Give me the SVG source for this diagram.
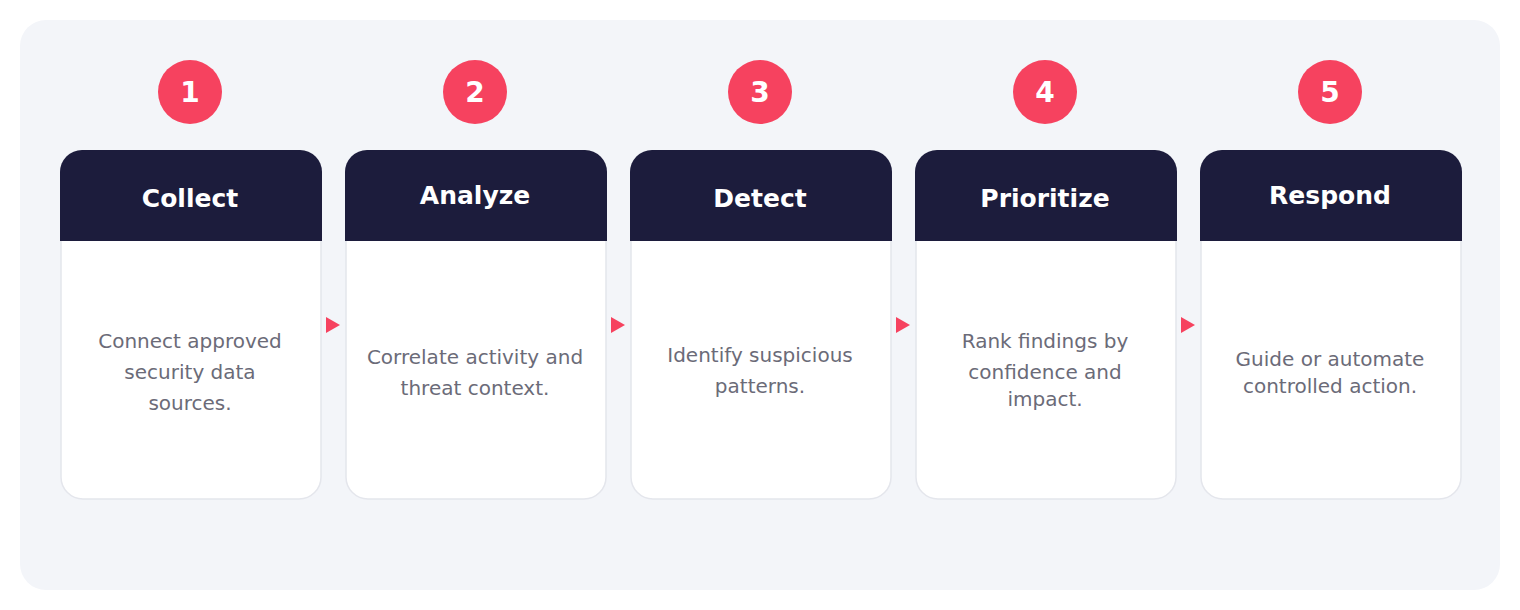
<svg xmlns="http://www.w3.org/2000/svg" width="1520" height="610" viewBox="0 0 1520 610">
<defs>
<style>
.bg{fill:#f3f5f9}
.card{fill:#ffffff;stroke:#e4e6ec;stroke-width:1.5}
.head{fill:#1c1c3c}
.badge{fill:#f6425f}
.num{font-family:"DejaVu Sans",sans-serif;font-weight:bold;font-size:28px;fill:#ffffff;text-anchor:middle}
.title{font-family:"DejaVu Sans",sans-serif;font-weight:bold;font-size:25px;fill:#ffffff;text-anchor:middle}
.desc{font-family:"DejaVu Sans",sans-serif;font-size:20px;fill:#6b6b78;text-anchor:middle}
.conn{stroke:#f6425f;stroke-width:4;fill:none}
</style>
<marker id="arr" markerWidth="14" markerHeight="16" refX="2" refY="8" orient="auto" markerUnits="userSpaceOnUse">
<path d="M0,0 L14,8 L0,16 Z" fill="#f6425f"/>
</marker>
</defs>
<rect class="bg" x="20" y="20" width="1480" height="570" rx="26"/>
<g id="connectors">
<line class="conn" x1="326" y1="325" x2="328" y2="325" marker-end="url(#arr)"/>
<line class="conn" x1="611" y1="325" x2="613" y2="325" marker-end="url(#arr)"/>
<line class="conn" x1="896" y1="325" x2="898" y2="325" marker-end="url(#arr)"/>
<line class="conn" x1="1181" y1="325" x2="1183" y2="325" marker-end="url(#arr)"/>
</g>
<g id="step1">
<rect class="card" x="61" y="160" width="260" height="339" rx="22"/>
<path class="head" d="M60,241 V172 a22,22 0 0 1 22,-22 H300 a22,22 0 0 1 22,22 V241 Z"/>
<circle class="badge" cx="190" cy="92" r="32"/>
<text class="num" x="190" y="102">1</text>
<text class="title" x="190" y="207">Collect</text>
<text class="desc" x="190" y="348">Connect approved</text>
<text class="desc" x="190" y="379">security data</text>
<text class="desc" x="190" y="410">sources.</text>
</g>
<g id="step2">
<rect class="card" x="346" y="160" width="260" height="339" rx="22"/>
<path class="head" d="M345,241 V172 a22,22 0 0 1 22,-22 H585 a22,22 0 0 1 22,22 V241 Z"/>
<circle class="badge" cx="475" cy="92" r="32"/>
<text class="num" x="475" y="102">2</text>
<text class="title" x="475" y="204">Analyze</text>
<text class="desc" x="475" y="364">Correlate activity and</text>
<text class="desc" x="475" y="395">threat context.</text>
</g>
<g id="step3">
<rect class="card" x="631" y="160" width="260" height="339" rx="22"/>
<path class="head" d="M630,241 V172 a22,22 0 0 1 22,-22 H870 a22,22 0 0 1 22,22 V241 Z"/>
<circle class="badge" cx="760" cy="92" r="32"/>
<text class="num" x="760" y="102">3</text>
<text class="title" x="760" y="207">Detect</text>
<text class="desc" x="760" y="362">Identify suspicious</text>
<text class="desc" x="760" y="393">patterns.</text>
</g>
<g id="step4">
<rect class="card" x="916" y="160" width="260" height="339" rx="22"/>
<path class="head" d="M915,241 V172 a22,22 0 0 1 22,-22 H1155 a22,22 0 0 1 22,22 V241 Z"/>
<circle class="badge" cx="1045" cy="92" r="32"/>
<text class="num" x="1045" y="102">4</text>
<text class="title" x="1045" y="207">Prioritize</text>
<text class="desc" x="1045" y="348">Rank findings by</text>
<text class="desc" x="1045" y="379">confidence and</text>
<text class="desc" x="1045" y="406">impact.</text>
</g>
<g id="step5">
<rect class="card" x="1201" y="160" width="260" height="339" rx="22"/>
<path class="head" d="M1200,241 V172 a22,22 0 0 1 22,-22 H1440 a22,22 0 0 1 22,22 V241 Z"/>
<circle class="badge" cx="1330" cy="92" r="32"/>
<text class="num" x="1330" y="102">5</text>
<text class="title" x="1330" y="204">Respond</text>
<text class="desc" x="1330" y="366">Guide or automate</text>
<text class="desc" x="1330" y="393">controlled action.</text>
</g>
</svg>
